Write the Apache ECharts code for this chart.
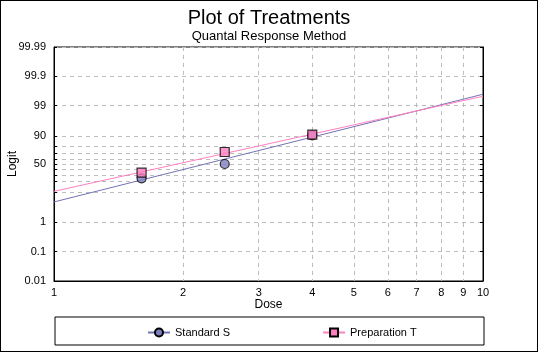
<!DOCTYPE html>
<html>
<head>
<meta charset="utf-8">
<script src="https://cdn.jsdelivr.net/npm/echarts@6/dist/echarts.min.js"></script>
<style>
    html, body { margin: 0; padding: 0; background: #fff; }
    #chart { width: 536px; height: 350px; border: 1px solid #000; }
</style>
</head>
<body>
<div id="chart"></div>
<script>
    // data (response in percent, dose linear)
    var doses = [1.6, 2.5, 4.0];
    var standardS = [24.5, 50, 90.5];
    var preparationT = [33.5, 72, 91];
    // fitted lines, ends at dose 1 and 10
    var fitDose = [1, 10];
    var fitS = [4.8, 99.59];
    var fitT = [10.4, 99.52];

    var xTicks = [1, 2, 3, 4, 5, 6, 7, 8, 9, 10];
    var yGrid = [0.01, 0.1, 1, 10, 20, 30, 40, 50, 60, 70, 80, 90, 99, 99.9, 99.99];
    var yLabels = [0.01, 0.1, 1, 50, 90, 99, 99.9, 99.99];

    function logit(pct) {
        var p = pct / 100;
        return Math.log(p / (1 - p));
    }
    function toPoints(xs, ys) {
        return xs.map(function (d, i) { return [Math.log10(d), logit(ys[i])]; });
    }

    var font = 'Liberation Sans, Arial, sans-serif';
    var gridLine = { show: true, lineStyle: { color: '#bdbdbd', type: [4, 4] } };
    var chart = echarts.init(document.getElementById('chart'));
    chart.setOption({
        animation: false,
        textStyle: { fontFamily: font, color: '#000' },
        title: {
            text: 'Plot of Treatments',
            subtext: 'Quantal Response Method',
            left: 'center',
            top: 2,
            itemGap: 2,
            textStyle: { fontFamily: font, fontSize: 20, fontWeight: 'normal', color: '#000' },
            subtextStyle: { fontFamily: font, fontSize: 13, color: '#000' }
        },
        grid: {
            left: 53, right: 54, top: 46, bottom: 70,
            outerBoundsMode: 'none',
            containLabel: false,
            show: true, borderColor: '#000', borderWidth: 1
        },
        xAxis: {
            type: 'value',
            min: 0,
            max: 1,
            name: 'Dose',
            nameLocation: 'middle',
            nameGap: 18,
            nameMoveOverlap: false,
            nameTextStyle: { fontSize: 12, color: '#000' },
            axisLine: { onZero: false, lineStyle: { color: '#000' } },
            axisTick: { show: false, customValues: xTicks.map(Math.log10) },
            axisLabel: {
                customValues: xTicks.map(Math.log10),
                fontSize: 11, color: '#000', margin: 6,
                formatter: function (v) { return String(Math.round(Math.pow(10, v))); }
            },
            splitLine: gridLine
        },
        yAxis: [{
            type: 'value',
            min: logit(0.01),
            max: logit(99.99),
            name: 'Logit',
            nameLocation: 'middle',
            nameGap: 35,
            nameMoveOverlap: false,
            nameTextStyle: { fontSize: 12, color: '#000' },
            axisLine: { show: true, onZero: false, lineStyle: { color: '#000' } },
            axisTick: { show: true, inside: true, length: 3, customValues: yGrid.map(logit), lineStyle: { color: '#000' } },
            axisLabel: {
                customValues: yLabels.map(logit),
                fontSize: 11, color: '#000', margin: 8,
                formatter: function (v) {
                    var p = 100 / (1 + Math.exp(-v));
                    return String(+p.toPrecision(4));
                }
            },
            splitLine: gridLine
        }, {
            type: 'value',
            position: 'right',
            min: logit(0.01),
            max: logit(99.99),
            axisLine: { show: true, onZero: false, lineStyle: { color: '#000' } },
            axisTick: { show: true, inside: true, length: 3, customValues: yGrid.map(logit), lineStyle: { color: '#000' } },
            axisLabel: { show: false },
            splitLine: { show: false }
        }],
        legend: {
            left: 141,
            top: 321,
            itemGap: 92,
            itemWidth: 22,
            itemHeight: 10,
            textStyle: { fontFamily: font, fontSize: 11, color: '#000' },
            data: ['Standard S', 'Preparation T']
        },
        graphic: [{
            type: 'rect',
            shape: { x: 54, y: 316, width: 429, height: 28 },
            style: { fill: 'none', stroke: '#000', lineWidth: 1 },
            silent: true
        }],
        series: [{
            name: 'Standard S',
            type: 'line',
            data: toPoints(fitDose, fitS),
            symbol: 'circle',
            symbolSize: 9,
            showSymbol: false,
            lineStyle: { color: '#7272b4', width: 1 },
            itemStyle: { color: '#7f7fbf', borderColor: '#000', borderWidth: 1 },
            z: 2
        }, {
            name: 'Preparation T',
            type: 'line',
            data: toPoints(fitDose, fitT),
            symbol: 'rect',
            symbolSize: 9,
            showSymbol: false,
            lineStyle: { color: '#ff7fbf', width: 1 },
            itemStyle: { color: '#ff80c0', borderColor: '#000', borderWidth: 1 },
            z: 2
        }, {
            name: 'Standard S',
            type: 'scatter',
            data: toPoints(doses, standardS),
            symbol: 'circle',
            symbolSize: 9,
            itemStyle: { color: '#7f7fbf', borderColor: '#000', borderWidth: 1.2 },
            z: 3
        }, {
            name: 'Preparation T',
            type: 'scatter',
            data: toPoints(doses, preparationT),
            symbol: 'rect',
            symbolSize: 9,
            itemStyle: { color: '#ff80c0', borderColor: '#000', borderWidth: 1.2 },
            z: 4
        }]
    });
</script>
</body>
</html>
